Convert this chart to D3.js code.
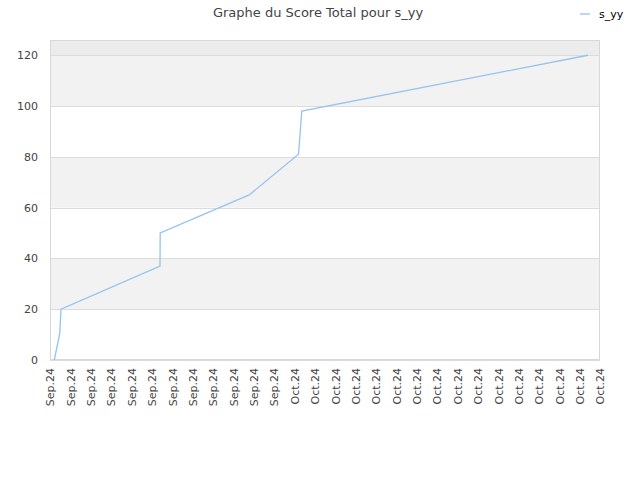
<!DOCTYPE html>
<html>
<head>
<meta charset="utf-8">
<script src="https://cdn.jsdelivr.net/npm/d3@7"></script>
<style>
  body { margin: 0; background: #fff; }
  text { font-family: "DejaVu Sans", sans-serif; }
</style>
</head>
<body>
<div id="chart"></div>
<script>
const title = "Graphe du Score Total pour s_yy";
const seriesName = "s_yy";

// x position in tick units (0 = first tick), y = total score
const pointX = [0.21, 0.48, 0.54, 5.40, 5.41, 9.78, 12.20, 12.36, 26.41];
const pointY = [0, 10.5, 20, 37, 50, 65, 81, 98, 120];

const tickLabels = [
    "Sep.24", "Sep.24", "Sep.24", "Sep.24", "Sep.24", "Sep.24",
    "Sep.24", "Sep.24", "Sep.24", "Sep.24", "Sep.24", "Sep.24",
    "Oct.24", "Oct.24", "Oct.24", "Oct.24", "Oct.24", "Oct.24",
    "Oct.24", "Oct.24", "Oct.24", "Oct.24", "Oct.24", "Oct.24",
    "Oct.24", "Oct.24", "Oct.24", "Oct.24"
];
const yTicks = [0, 20, 40, 60, 80, 100, 120];
const yMax = 126;

const W = 640, H = 480;
const margin = { top: 40, right: 40, bottom: 120, left: 50 };
const width = W - margin.left - margin.right;
const height = H - margin.top - margin.bottom;

const svg = d3.select("#chart").append("svg")
    .attr("width", W)
    .attr("height", H);

const x = d3.scaleLinear().domain([0, tickLabels.length - 1]).range([0, width]);
const y = d3.scaleLinear().domain([0, yMax]).range([height, 0]);

const g = svg.append("g").attr("transform", `translate(${margin.left},${margin.top})`);

// alternating bands
const bands = [];
for (let i = 0; i < yTicks.length - 1; i++) bands.push([yTicks[i], yTicks[i + 1], i % 2 === 1 ? "#f2f2f2" : "#ffffff"]);
bands.push([yTicks[yTicks.length - 1], yMax, "#ececec"]);

g.selectAll(".band")
    .data(bands)
    .enter().append("rect")
    .attr("x", 0)
    .attr("width", width)
    .attr("y", d => y(d[1]))
    .attr("height", d => y(d[0]) - y(d[1]))
    .attr("fill", d => d[2]);

// horizontal grid lines
g.selectAll(".grid")
    .data(yTicks)
    .enter().append("line")
    .attr("x1", 0).attr("x2", width)
    .attr("y1", d => Math.round(y(d)) + 0.5)
    .attr("y2", d => Math.round(y(d)) + 0.5)
    .attr("stroke", "#dcdcdc");

// plot border
g.append("rect")
    .attr("x", 0.5).attr("y", 0.5)
    .attr("width", width - 1).attr("height", height - 1)
    .attr("fill", "none")
    .attr("stroke", "#d8d8d8");

// y axis labels
const yAxis = d3.axisLeft(y).tickValues(yTicks).tickSize(0).tickPadding(12);
g.append("g").call(yAxis)
    .call(s => s.select(".domain").remove())
    .selectAll("text")
    .attr("fill", "#444")
    .style("font-size", "11px");

// x axis labels, rotated
const xAxis = d3.axisBottom(x)
    .tickValues(d3.range(tickLabels.length))
    .tickFormat(i => tickLabels[i])
    .tickSize(0);
g.append("g")
    .attr("transform", `translate(0,${height})`)
    .call(xAxis)
    .call(s => s.select(".domain").remove())
    .selectAll("text")
    .attr("fill", "#444")
    .style("font-size", "11px")
    .attr("transform", "rotate(-90)")
    .attr("x", -8)
    .attr("y", 0)
    .attr("dy", "0.35em")
    .style("text-anchor", "end");

// series line
const line = d3.line()
    .x((d, i) => x(pointX[i]))
    .y((d, i) => y(pointY[i]));

g.append("path")
    .datum(pointY)
    .attr("d", line)
    .attr("fill", "none")
    .attr("stroke", "#95c3f0")
    .attr("stroke-width", 1.3);

// title
svg.append("text")
    .attr("x", 318)
    .attr("y", 17)
    .attr("text-anchor", "middle")
    .attr("fill", "#444")
    .style("font-size", "13px")
    .text(title);

// legend
const legend = svg.append("g").attr("transform", "translate(580,14)");
legend.append("line")
    .attr("x1", 0).attr("x2", 10)
    .attr("stroke", "#95c3f0")
    .attr("stroke-width", 1.3);
legend.append("text")
    .attr("x", 19)
    .attr("dy", "0.35em")
    .attr("fill", "#000")
    .style("font-size", "11px")
    .text(seriesName);
</script>
</body>
</html>
